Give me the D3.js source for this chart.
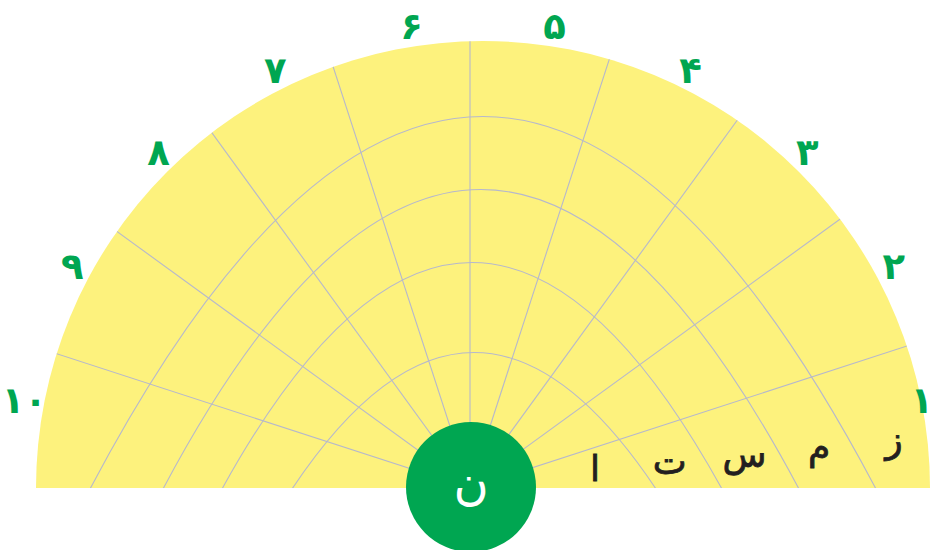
<!DOCTYPE html>
<html>
<head>
<meta charset="utf-8">
<script src="https://cdn.jsdelivr.net/npm/d3@7"></script>
<style>
  html, body { margin: 0; padding: 0; background: #ffffff; }
  svg { display: block; }
</style>
</head>
<body>
<svg id="chart" width="935" height="550"></svg>
<script>
// ---- data ----
const sectorLabels = ["۱", "۲", "۳", "۴", "۵", "۶", "۷", "۸", "۹", "۱۰"];
const ringLetters = ["ا", "ت", "س", "م", "ز"];
const hubLetter = "ن";

// ---- layout ----
const W = 935, H = 550;
const baseY = 488;
const disc = { cx: 483, r: 447 };
const fan = { cx: 470 };
const hub = { cx: 471, cy: 487, r: 65 };
const labelR = 467;
const rings = [
  { cx: 474, depth: 136, half: 182 },
  { cx: 472, depth: 226, half: 250 },
  { cx: 481, depth: 299, half: 318 },
  { cx: 483, depth: 372, half: 393 }
];
const colors = {
  disc: "#fdf27d", grid: "#b6b8cc", green: "#00a651", ink: "#231f20"
};

const svg = d3.select("#chart");
const defs = svg.append("defs");
const halfDisc = d3.arc()({ innerRadius: 0, outerRadius: disc.r, startAngle: -Math.PI / 2, endAngle: Math.PI / 2 });
defs.append("clipPath").attr("id", "discClip")
  .append("path")
  .attr("d", halfDisc)
  .attr("transform", `translate(${disc.cx},${baseY})`);

// half disc
svg.append("path")
  .attr("d", halfDisc)
  .attr("transform", `translate(${disc.cx},${baseY})`)
  .attr("fill", colors.disc);

// scales
const sectorBand = d3.scaleBand().domain(sectorLabels).range([0, 180]);
const labelAngle = d3.scalePoint().domain(sectorLabels).range([2, 178]).padding(0.5);
const rad = d => d * Math.PI / 180;

const grid = svg.append("g").attr("clip-path", "url(#discClip)")
  .attr("fill", "none").attr("stroke", colors.grid).attr("stroke-width", 1.1);

// spokes (sector boundaries)
grid.selectAll("line.spoke")
  .data(sectorLabels.slice(1))
  .join("line")
  .attr("class", "spoke")
  .attr("x1", fan.cx).attr("y1", baseY)
  .attr("x2", d => fan.cx + 700 * Math.cos(rad(sectorBand(d))))
  .attr("y2", d => baseY - 700 * Math.sin(rad(sectorBand(d))));

// parabolic rings
grid.selectAll("path.ring")
  .data(rings)
  .join("path")
  .attr("class", "ring")
  .attr("d", r => {
    const p = d3.path();
    p.moveTo(r.cx - r.half, baseY + 1);
    p.quadraticCurveTo(r.cx, baseY - 2 * r.depth, r.cx + r.half, baseY + 1);
    return p.toString();
  });

// hub
svg.append("circle")
  .attr("cx", hub.cx).attr("cy", hub.cy).attr("r", hub.r)
  .attr("fill", colors.green);
svg.append("text")
  .attr("x", hub.cx).attr("y", hub.cy)
  .attr("dy", "0.25em")
  .attr("text-anchor", "middle")
  .attr("font-family", "DejaVu Sans, sans-serif")
  .attr("font-size", 48)
  .attr("fill", "#ffffff")
  .text(hubLetter);

// sector number labels
const labelX = d => disc.cx + labelR * Math.cos(rad(labelAngle(d)));
const edgeX = W - 2;
svg.selectAll("text.num")
  .data(sectorLabels)
  .join("text")
  .attr("class", "num")
  .attr("x", d => labelX(d) + 10 > edgeX ? edgeX : labelX(d))
  .attr("y", d => baseY - labelR * Math.sin(rad(labelAngle(d))))
  .attr("dy", "0.35em")
  .attr("text-anchor", d => labelX(d) + 10 > edgeX ? "end" : "middle")
  .attr("font-family", "DejaVu Sans, sans-serif")
  .attr("font-weight", "bold")
  .attr("font-size", 37)
  .attr("fill", colors.green)
  .text(d => d);

// ring letters
const letterX = d3.scalePoint().domain(ringLetters).range([595, 894]);
const letterY = d3.scalePoint().domain(ringLetters).range([481, 452]);
svg.selectAll("text.letter")
  .data(ringLetters)
  .join("text")
  .attr("class", "letter")
  .attr("x", d => letterX(d))
  .attr("y", d => letterY(d))
  .attr("text-anchor", "middle")
  .attr("font-family", "DejaVu Sans, sans-serif")
  .attr("font-size", 36)
  .attr("fill", colors.ink)
  .attr("stroke", colors.ink)
  .attr("stroke-width", 0.8)
  .text(d => d);
</script>
</body>
</html>
